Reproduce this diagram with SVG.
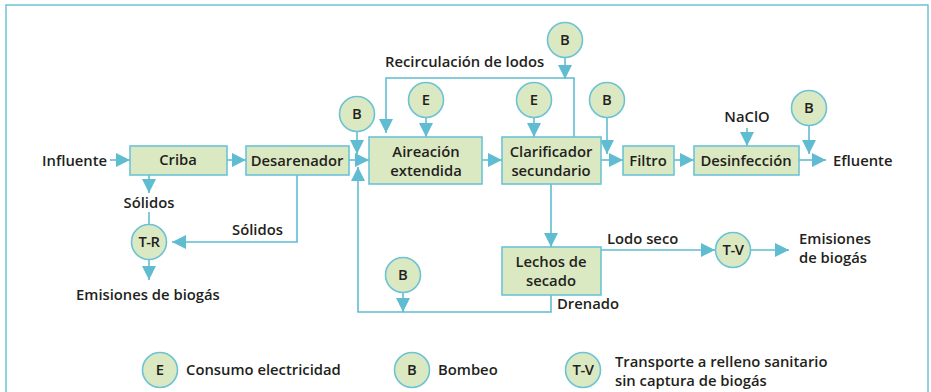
<svg xmlns="http://www.w3.org/2000/svg" width="931" height="392" viewBox="0 0 931 392">
<defs>
<marker id="ah" markerUnits="userSpaceOnUse" markerWidth="14" markerHeight="14" viewBox="0 0 14 14" refX="14" refY="7" orient="auto">
<path d="M0,0 L14,7 L0,14 Z" fill="#5fbcd1"/>
</marker>
</defs>
<style>
.frame{fill:none;stroke:#6cc3d6;stroke-width:1.5}
.box{fill:#dbe9c2;stroke:#6cc3d6;stroke-width:1.6}
.circ{fill:#dbe9c2;stroke:#6cc3d6;stroke-width:1.6}
.ln{fill:none;stroke:#5fbcd1;stroke-width:1.6}
.ar{fill:none;stroke:#5fbcd1;stroke-width:1.6;marker-end:url(#ah)}
text{font-family:"Open Sans",Lato,"Liberation Sans",sans-serif;font-weight:600;font-size:14.8px;fill:#231f20}
.c{text-anchor:middle}
</style>
<rect class="frame" x="6" y="5" width="922" height="400"/>
<g id="connectors">
<path class="ar" d="M110,160 H130"/>
<path class="ar" d="M227,160 H246"/>
<path class="ar" d="M349,160 H369"/>
<path class="ar" d="M482,160 H502"/>
<path class="ar" d="M601,160 H623"/>
<path class="ar" d="M674,160 H694"/>
<path class="ar" d="M799,160 H826"/>
<path class="ar" d="M357,132 V154"/>
<path class="ar" d="M426,118 V137"/>
<path class="ar" d="M534,118 V137"/>
<path class="ar" d="M607,118 V154"/>
<path class="ar" d="M809,126 V154"/>
<path class="ar" d="M565,58 V79"/>
<path class="ar" d="M747,128 V146"/>
<path class="ar" d="M574,137 V78 H386 V133"/>
<path class="ar" d="M149,175 V193"/>
<path class="ln" d="M149,212 V224"/>
<path class="ar" d="M297,175 V242 H172"/>
<path class="ar" d="M149,260 V280"/>
<path class="ar" d="M551,184 V247"/>
<path class="ar" d="M601,250 H715"/>
<path class="ar" d="M751,250 H789"/>
<path class="ar" d="M551,295 V312 H358 V167"/>
<path class="ar" d="M403,293 V312"/>
</g>
<g id="criba"><rect class="box" x="130" y="146" width="97" height="29"/><text class="c" x="178" y="165">Criba</text></g>
<g id="desarenador"><rect class="box" x="246" y="146" width="103" height="29"/><text class="c" x="297" y="166">Desarenador</text></g>
<g id="aireacion"><rect class="box" x="369" y="137" width="113" height="47"/><text class="c" x="426" y="157">Aireación<tspan x="426" y="176">extendida</tspan></text></g>
<g id="clarificador"><rect class="box" x="502" y="137" width="99" height="47"/><text class="c" x="551" y="157">Clarificador<tspan x="551" y="176">secundario</tspan></text></g>
<g id="filtro"><rect class="box" x="623" y="146" width="51" height="29"/><text class="c" x="648" y="166">Filtro</text></g>
<g id="desinfeccion"><rect class="box" x="694" y="146" width="105" height="29"/><text class="c" x="746" y="166">Desinfección</text></g>
<g id="lechos"><rect class="box" x="502" y="247" width="99" height="48"/><text class="c" x="551" y="267">Lechos de<tspan x="551" y="286">secado</tspan></text></g>
<g id="b1"><circle class="circ" cx="357" cy="114" r="17.5"/><text class="c" x="357" y="119">B</text></g>
<g id="e1"><circle class="circ" cx="426" cy="100" r="17.5"/><text class="c" x="426" y="105">E</text></g>
<g id="b2"><circle class="circ" cx="565" cy="40" r="17.5"/><text class="c" x="565" y="45">B</text></g>
<g id="e2"><circle class="circ" cx="534" cy="100" r="17.5"/><text class="c" x="534" y="105">E</text></g>
<g id="b3"><circle class="circ" cx="607" cy="100" r="17.5"/><text class="c" x="607" y="105">B</text></g>
<g id="b4"><circle class="circ" cx="809" cy="108" r="17.5"/><text class="c" x="809" y="113">B</text></g>
<g id="tr"><circle class="circ" cx="149" cy="242" r="17.5"/><text class="c" x="149" y="247" style="letter-spacing:-0.5px">T-R</text></g>
<g id="b5"><circle class="circ" cx="403" cy="275" r="17.5"/><text class="c" x="403" y="280">B</text></g>
<g id="tv"><circle class="circ" cx="733" cy="250" r="17.5"/><text class="c" x="733" y="255" style="letter-spacing:-0.5px">T-V</text></g>
<g id="labels">
<text x="42" y="166">Influente</text>
<text x="385" y="67">Recirculación de lodos</text>
<text class="c" x="747" y="122">NaClO</text>
<text x="833" y="166">Efluente</text>
<text class="c" x="149" y="208">Sólidos</text>
<text x="232" y="235">Sólidos</text>
<text x="76" y="300">Emisiones de biogás</text>
<text x="607" y="244">Lodo seco</text>
<text x="799" y="243.5">Emisiones<tspan x="799" y="262.5">de biogás</tspan></text>
<text x="557" y="309">Drenado</text>
</g>
<g id="legend">
<g id="leg-e"><circle class="circ" cx="160" cy="370" r="17.5"/><text class="c" x="160" y="375">E</text><text x="186" y="375">Consumo electricidad</text></g>
<g id="leg-b"><circle class="circ" cx="412" cy="370" r="17.5"/><text class="c" x="412" y="375">B</text><text x="438" y="375">Bombeo</text></g>
<g id="leg-tv"><circle class="circ" cx="583" cy="370" r="17.5"/><text class="c" x="583" y="375" style="letter-spacing:-0.5px">T-V</text><text x="615" y="366.5">Transporte a relleno sanitario<tspan x="615" y="385.5">sin captura de biogás</tspan></text></g>
</g>
</svg>
